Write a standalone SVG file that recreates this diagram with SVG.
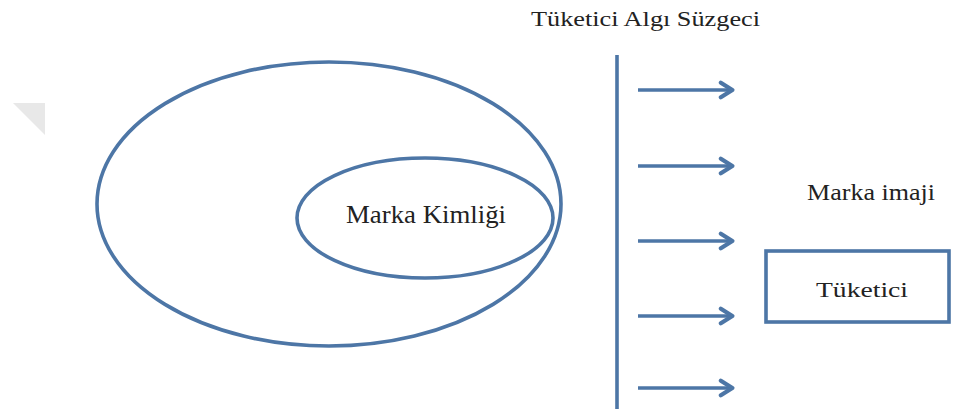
<svg xmlns="http://www.w3.org/2000/svg" width="966" height="417" viewBox="0 0 966 417">
<defs>
<style>
.s{fill:none;stroke:#4d76a6;stroke-width:3.6}
.t{fill:#222222;font-family:"Liberation Serif","DejaVu Serif","Noto Serif",Tinos,"Times New Roman",serif}
</style>
<marker id="ah" viewBox="0 0 10 12" refX="9" refY="6" markerWidth="4.5" markerHeight="5.4" markerUnits="strokeWidth" orient="auto">
<path d="M1.5,1.5 L8.6,6 L1.5,10.5" fill="none" stroke="#4d76a6" stroke-width="2.6" stroke-linecap="round" stroke-linejoin="round"/>
</marker>
</defs>
<rect width="966" height="417" fill="#fff"/>
<polygon points="13,103 45,103 45,135" fill="#e8e8e8"/>
<text class="t" x="531" y="26" font-size="21" textLength="229" lengthAdjust="spacingAndGlyphs">Tüketici Algı Süzgeci</text>
<g id="outer">
<ellipse class="s" cx="329" cy="204" rx="232" ry="142"/>
</g>
<g id="marka-kimligi">
<ellipse class="s" cx="425" cy="218" rx="128" ry="60"/>
<text class="t" x="346" y="223" font-size="25" textLength="160" lengthAdjust="spacingAndGlyphs">Marka Kimliği</text>
</g>
<g id="filter">
<line class="s" x1="617" y1="55" x2="617" y2="409"/>
</g>
<g id="marka-imaji">
<text class="t" x="807" y="200" font-size="23" textLength="128" lengthAdjust="spacingAndGlyphs">Marka imaji</text>
</g>
<g id="tuketici">
<rect class="s" x="766" y="251" width="183" height="71"/>
<text class="t" x="816" y="297" font-size="22" textLength="92" lengthAdjust="spacingAndGlyphs">Tüketici</text>
</g>
<g id="connectors">
<line class="s" x1="638" y1="90" x2="733" y2="90" marker-end="url(#ah)"/>
<line class="s" x1="638" y1="166" x2="733" y2="166" marker-end="url(#ah)"/>
<line class="s" x1="638" y1="241" x2="733" y2="241" marker-end="url(#ah)"/>
<line class="s" x1="638" y1="316" x2="733" y2="316" marker-end="url(#ah)"/>
<line class="s" x1="638" y1="388" x2="733" y2="388" marker-end="url(#ah)"/>
</g>
</svg>
